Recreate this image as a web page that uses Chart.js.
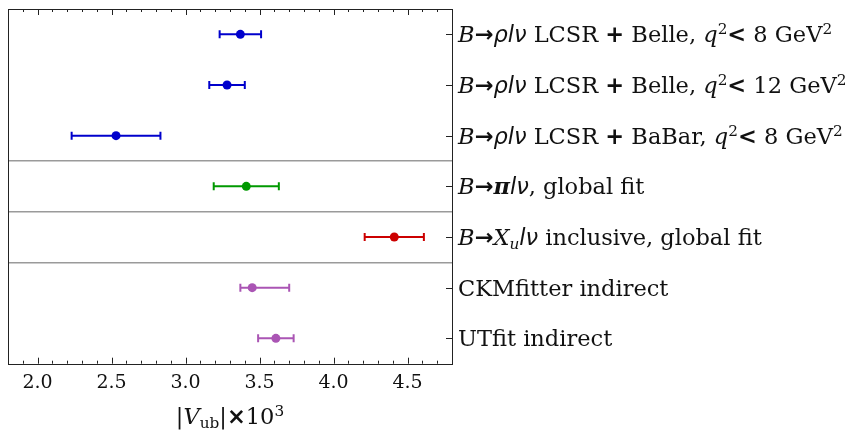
<!DOCTYPE html>
<html lang="en">
<head>
  <meta charset="UTF-8">
  <title>Vub comparison</title>
  <script src="https://cdn.jsdelivr.net/npm/chart.js"></script>
  <style>
    html, body { margin: 0; padding: 0; background: #fff; }
    .wrap { position: relative; width: 861px; height: 436px; }
    .wrap canvas { position: absolute; left: 0; top: 0; }
    .lbl {
      position: absolute;
      white-space: nowrap;
      font-family: 'DejaVu Serif', serif;
      font-size: 22.5px;
      line-height: 26px;
      color: #111;
      transform: translateY(-50%);
    }
    .lbl i { font-style: italic; }
    .s { font-family: 'DejaVu Sans', sans-serif; font-weight: bold; }
    i.s { font-weight: normal; }
    .pi { font-weight: bold; }
    sup { font-size: 0.68em; vertical-align: 0.55em; line-height: 0; }
    sub { font-size: 0.68em; vertical-align: -0.25em; line-height: 0; }
    .xtitle { transform: translate(-50%, 0); }
  </style>
</head>
<body>
<div class="wrap" id="wrap">
  <canvas id="vubChart" width="861" height="436"></canvas>
</div>

<script>
  // categories, top to bottom
  const rows = [
    '<i>B</i><span class="s">→</span><i class="s">ρlν</i> LCSR <span class="s">+</span> Belle, <i>q</i><sup>2</sup><span class="s">&lt;</span> 8 GeV<sup>2</sup>',
    '<i>B</i><span class="s">→</span><i class="s">ρlν</i> LCSR <span class="s">+</span> Belle, <i>q</i><sup>2</sup><span class="s">&lt;</span> 12 GeV<sup>2</sup>',
    '<i>B</i><span class="s">→</span><i class="s">ρlν</i> LCSR <span class="s">+</span> BaBar, <i>q</i><sup>2</sup><span class="s">&lt;</span> 8 GeV<sup>2</sup>',
    '<i>B</i><span class="s">→</span><i class="pi">π</i><i class="s">lν</i>, global fit',
    '<i>B</i><span class="s">→</span><i>X<sub>u</sub></i><i class="s">lν</i> inclusive, global fit',
    'CKMfitter indirect',
    'UTfit indirect'
  ];

  // |Vub| x 10^3 central values and errors
  const vub   = [3.37, 3.28, 2.53, 3.41, 4.41, 3.45, 3.61];
  const errLo = [0.14, 0.12, 0.30, 0.22, 0.20, 0.08, 0.12];
  const errHi = [0.14, 0.12, 0.30, 0.22, 0.20, 0.25, 0.12];

  const xTickLabels = ['2.0', '2.5', '3.0', '3.5', '4.0', '4.5'];
  const separators = [3.5, 4.5, 5.5];

  const colors = ['#0000cc', '#0000cc', '#0000cc', '#009900', '#cc0000', '#aa55b4', '#aa55b4'];

  const datasets = [];
  rows.forEach((r, i) => {
    datasets.push({
      data: [{ x: vub[i] - errLo[i], y: i + 1 }, { x: vub[i] + errHi[i], y: i + 1 }],
      showLine: true,
      borderColor: colors[i],
      borderWidth: 2,
      pointStyle: 'line',
      rotation: 90,
      pointRadius: 4,
      pointBorderColor: colors[i],
      pointBorderWidth: 2
    });
  });
  datasets.push({
    data: vub.map((v, i) => ({ x: v, y: i + 1 })),
    showLine: false,
    pointRadius: 4.5,
    pointBorderWidth: 0,
    pointBackgroundColor: colors
  });

  // box + inward tick marks, html labels placed from the scales
  const frame = {
    id: 'frame',
    afterDraw(chart) {
      const ctx = chart.ctx, a = chart.chartArea;
      const xs = chart.scales.x, ys = chart.scales.y;
      ctx.save();
      ctx.strokeStyle = '#222';
      ctx.lineWidth = 1;
      ctx.beginPath();
      xs.ticks.forEach(t => {
        const px = Math.round(xs.getPixelForValue(t.value)) + 0.5;
        const len = t.label ? 6 : 3;
        ctx.moveTo(px, a.top); ctx.lineTo(px, a.top + len);
        ctx.moveTo(px, a.bottom); ctx.lineTo(px, a.bottom - len);
      });
      rows.forEach((r, i) => {
        const py = Math.round(ys.getPixelForValue(i + 1)) + 0.5;
        ctx.moveTo(a.right, py); ctx.lineTo(a.right - 6, py);
      });
      ctx.stroke();
      ctx.strokeRect(Math.round(a.left) + 0.5, Math.round(a.top) + 0.5,
        Math.round(a.right - a.left), Math.round(a.bottom - a.top));
      ctx.restore();
    },
    afterRender(chart) {
      if (chart._labelsDone) return;
      chart._labelsDone = true;
      const wrap = document.getElementById('wrap');
      const a = chart.chartArea, ys = chart.scales.y;
      rows.forEach((r, i) => {
        const d = document.createElement('div');
        d.className = 'lbl';
        d.innerHTML = r;
        d.style.left = (a.right + 6) + 'px';
        d.style.top = ys.getPixelForValue(i + 1) + 'px';
        wrap.appendChild(d);
      });
      const t = document.createElement('div');
      t.className = 'lbl xtitle';
      t.innerHTML = '|<i>V</i><sub>ub</sub>|<span class="s">×</span>10<sup>3</sup>';
      t.style.left = ((a.left + a.right) / 2) + 'px';
      t.style.top = (a.bottom + 39) + 'px';
      wrap.appendChild(t);
    }
  };

  new Chart(document.getElementById('vubChart'), {
    type: 'scatter',
    data: { datasets: datasets },
    plugins: [frame],
    options: {
      responsive: false,
      animation: false,
      layout: { padding: { left: 8, top: 9, right: 409, bottom: 33.5 } },
      plugins: { legend: { display: false }, tooltip: { enabled: false } },
      scales: {
        x: {
          min: 1.8,
          max: 4.8,
          grid: { display: false, drawTicks: false },
          border: { display: false },
          ticks: {
            stepSize: 0.1,
            autoSkip: false,
            maxRotation: 0,
            padding: 8,
            color: '#111',
            font: { family: 'DejaVu Serif', size: 19 },
            callback: v => {
              const s = (Math.round(v * 10) / 10).toFixed(1);
              return xTickLabels.includes(s) ? s : '';
            }
          }
        },
        y: {
          position: 'right',
          reverse: true,
          min: 0.5,
          max: 7.5,
          ticks: { display: false, stepSize: 0.5 },
          border: { display: false },
          grid: {
            drawTicks: false,
            lineWidth: 1.5,
            color: c => separators.includes(c.tick.value) ? '#9a9a9a' : 'rgba(0,0,0,0)'
          }
        }
      }
    }
  });
</script>
</body>
</html>
